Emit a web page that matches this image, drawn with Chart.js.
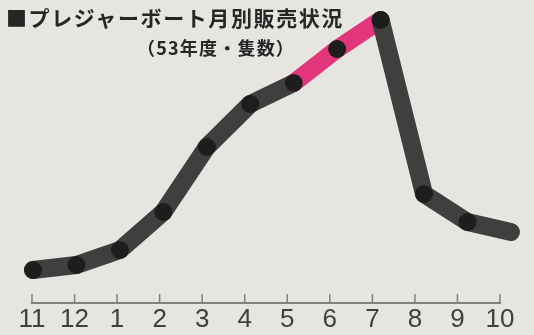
<!DOCTYPE html>
<html><head><meta charset="utf-8">
<script src="https://cdn.jsdelivr.net/npm/chart.js@4/dist/chart.umd.min.js"></script>
<style>
html,body{margin:0;padding:0;background:#e7e5e0;}
#wrap{position:relative;width:534px;height:335px;overflow:hidden;background:#e7e5e0;}
#c{position:absolute;left:0;top:0;}
#t1{position:absolute;left:6px;top:7px;font-family:"Noto Sans CJK JP";font-weight:bold;font-size:21px;letter-spacing:1.6px;color:#262626;white-space:nowrap;line-height:1;}
#t2{position:absolute;left:137px;top:38px;font-family:"Noto Sans CJK JP";font-weight:bold;font-size:18px;letter-spacing:1.2px;color:#262626;white-space:nowrap;line-height:1;}
</style>
</head><body>
<div id="wrap">
<canvas id="c" width="534" height="335"></canvas>
<div id="t1">■プレジャーボート月別販売状況</div>
<div id="t2">（53年度・隻数）</div>
</div>
<script>
const months = ['11','12','1','2','3','4','5','6','7','8','9','10'];
const sales = [33, 38, 53, 91, 156, 199, 220, 254, 283, 109, 81, 71];
const highlightStart = 6; // 5月
const highlightEnd = 8;   // 7月

const lineColor = '#3f3f3f';
const pink = '#e2357c';

const tickMarks = {
  id: 'tickMarks',
  afterDraw(chart) {
    const s = chart.scales.xt;
    const ctx = chart.ctx;
    ctx.save();
    ctx.strokeStyle = '#808080';
    ctx.lineWidth = 1.5;
    for (let i = 0; i < months.length; i++) {
      const x = s.getPixelForTick(i);
      ctx.beginPath();
      ctx.moveTo(x, s.top);
      ctx.lineTo(x, s.top - 9);
      ctx.stroke();
    }
    ctx.restore();
  }
};

new Chart(document.getElementById('c'), {
  type: 'line',
  data: {
    datasets: [{
      data: months.map((m, i) => ({x: i, y: sales[i]})),
      xAxisID: 'xd',
      yAxisID: 'y',
      borderColor: lineColor,
      borderWidth: 18,
      borderCapStyle: 'round',
      borderJoinStyle: 'round',
      tension: 0,
      pointRadius: 9,
      pointBackgroundColor: '#1d1d1d',
      pointBorderWidth: 0,
      clip: false,
      segment: {
        borderColor: c => (c.p0DataIndex >= highlightStart && c.p0DataIndex < highlightEnd) ? pink : undefined
      }
    }]
  },
  options: {
    responsive: false,
    animation: false,
    layout: {autoPadding: false, padding: {left: 32, right: 34, top: 0, bottom: 0}},
    plugins: {legend: {display: false}, tooltip: {enabled: false}, title: {display: false}},
    scales: {
      xt: {
        type: 'category',
        labels: months,
        position: 'bottom',
        offset: false,
        grid: {display: true, drawOnChartArea: false, drawTicks: false},
        border: {display: true, color: '#808080', width: 2},
        ticks: {color: '#404040', font: {family: 'Liberation Sans', size: 26}, padding: 1, maxRotation: 0, autoSkip: false},
        afterFit: s => { s.height = 32; }
      },
      xd: {type: 'linear', display: false, min: -0.023, max: 10.748},
      y: {type: 'linear', display: false, min: 0, max: 303}
    }
  },
  plugins: [tickMarks]
});
</script>
</body></html>
